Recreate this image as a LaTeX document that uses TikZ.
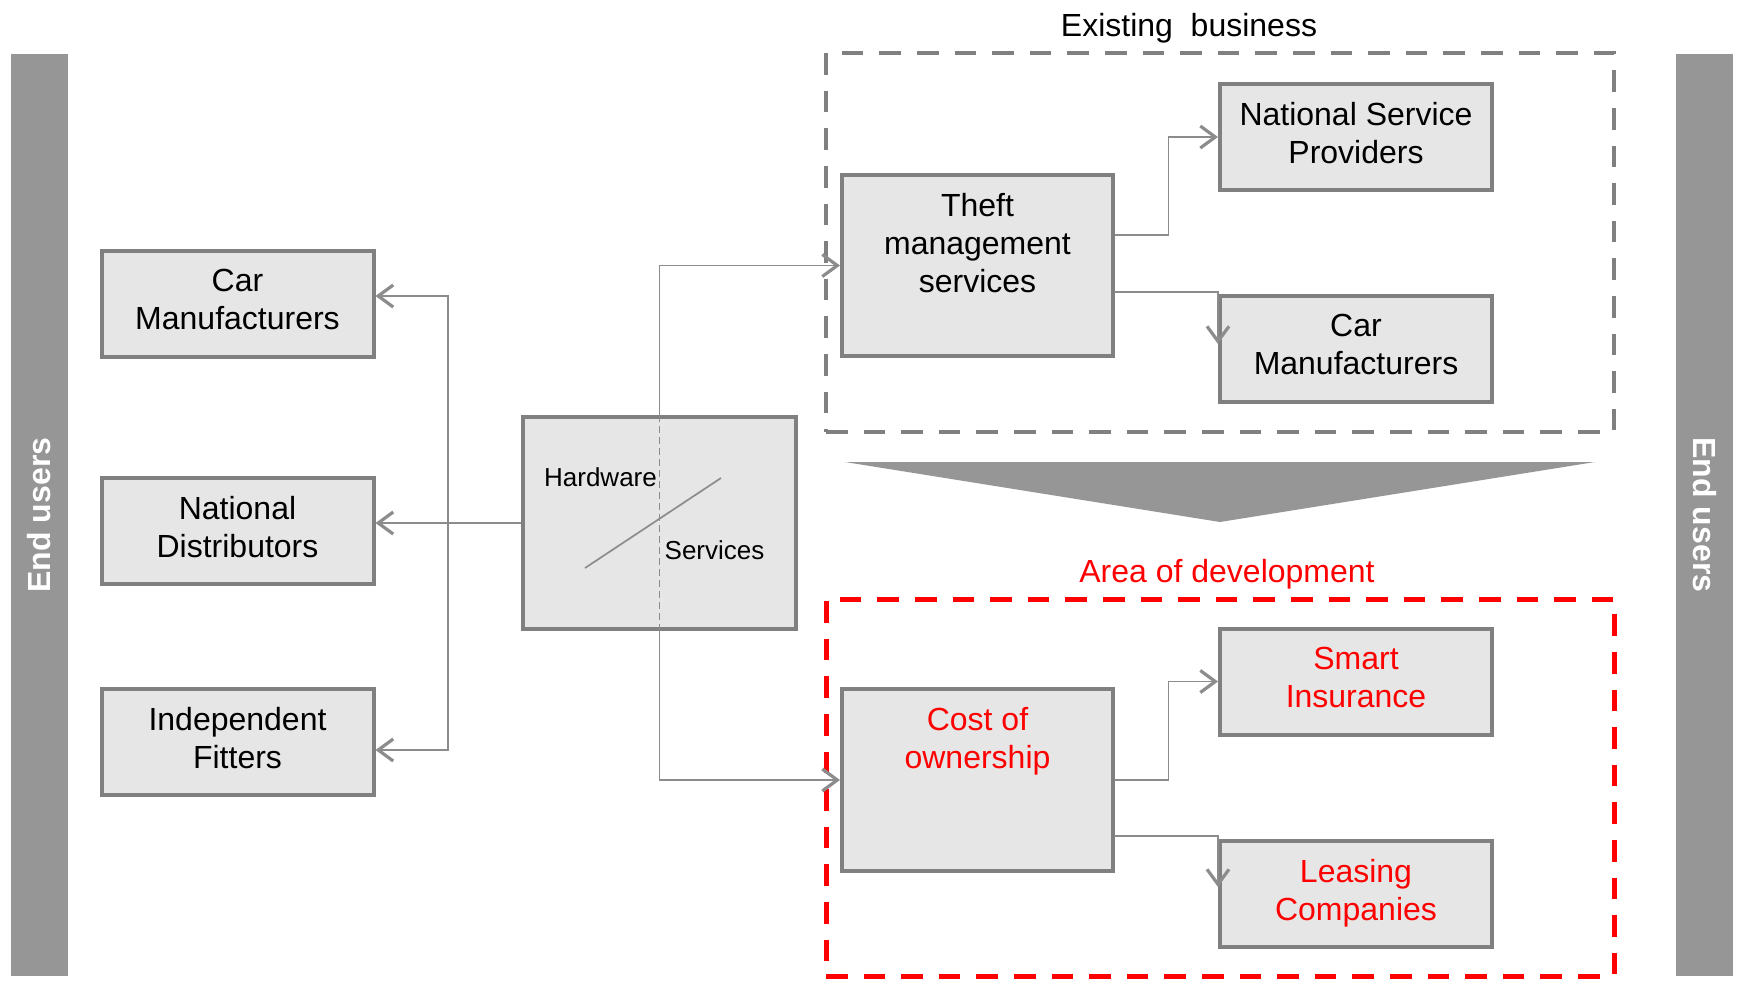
\documentclass[tikz,border=0pt]{standalone}
\usepackage{fontspec}
\setmainfont{Liberation Sans}
\usepackage{tikz}
\usetikzlibrary{calc}
\usetikzlibrary{arrows.meta}
\definecolor{boxfill}{HTML}{E6E6E6}
\definecolor{boxline}{HTML}{808080}
\definecolor{bargray}{HTML}{969696}
\definecolor{linegray}{HTML}{8C8C8C}
\definecolor{devred}{HTML}{FF0000}
\tikzstyle{box} = [draw=boxline, fill=boxfill, line width=2pt, align=center,
   inner sep=0pt, font=\fontsize{16pt}{19pt}\selectfont]
\tikzstyle{sidebox} = [box, minimum width=136pt, minimum height=53pt, text depth=4pt]
\tikzstyle{userbar} = [fill=bargray, minimum width=461pt, minimum height=28.5pt,
   text=white, font=\bfseries\fontsize{16pt}{19pt}\selectfont]
\tikzstyle{groupframe} = [line width=2pt, dash pattern=on 10.8pt off 8pt,
   minimum width=394pt, minimum height=189.5pt]
\tikzstyle{conn} = [draw=linegray, line width=0.85pt,
   -{Straight Barb[length=7.5pt,width=11pt,line width=1.6pt]}]
\tikzstyle{toplabel} = [anchor=north, yshift=-10pt, align=center, inner sep=0pt,
   font=\fontsize{16pt}{19pt}\selectfont]

\begin{document}
\begin{tikzpicture}[x=0.5pt,y=-0.5pt]
  \useasboundingbox (0,0) rectangle (1739,987);
  \node (leftusers) [userbar, rotate=90] at (39.5,515) {End users};
  \node (rightusers) [userbar, rotate=-90] at (1704.5,515) {End users};
  \node (carman) [sidebox] at (237.5,303.5) {Car\\Manufacturers};
  \node (natdist) [sidebox] at (237.5,530.5) {National\\Distributors};
  \node (indfit) [sidebox] at (237.5,741.5) {Independent\\Fitters};
  \node (hwserv) [box, minimum width=136.5pt, minimum height=106pt] at (659.5,523) {};
  \node (hwlabel) [font=\fontsize{13pt}{15pt}\selectfont] at (600.5,477) {Hardware};
  \node (svlabel) [font=\fontsize{13pt}{15pt}\selectfont] at (714.5,550) {Services};
  \draw [linegray, line width=0.85pt] (585,568) -- (721,478);
  \draw [linegray, line width=0.85pt, dash pattern=on 3.5pt off 2pt] (hwserv.north) -- (hwserv.south);
  \node (existing) [groupframe, draw=boxline] at (1220,242.5) {};
  \node (develop) [groupframe, draw=devred, line width=2.5pt, minimum height=188.5pt] at (1220,787.5) {};
  \node (existtitle) [font=\fontsize{16pt}{19pt}\selectfont] at (1189,28.5) {Existing\ \ business};
  \node (devtitle) [text=devred, font=\fontsize{16pt}{19pt}\selectfont] at (1227,574) {Area of development};
  \fill [bargray] (845,462) -- (1595,462) -- (1220,522) -- cycle;
  \node (theft) [box, minimum width=135.5pt, minimum height=90.5pt,
    label={[toplabel]north:Theft\\management\\services}] at (977.5,265.5) {};
  \node (cost) [box, minimum width=135.5pt, minimum height=91pt,
    label={[toplabel, text=devred]north:Cost of\\ownership}] at (977.5,780) {};
  \node (natserv) [sidebox] at (1356,137) {National Service\\Providers};
  \node (carmantwo) [sidebox] at (1356,348.5) {Car\\Manufacturers};
  \node (smart) [sidebox, text=devred] at (1356,681.5) {Smart\\Insurance};
  \node (leasing) [sidebox, text=devred] at (1356,893.5) {Leasing\\Companies};
  \coordinate (leftbus) at ($(hwserv.west)!.5!(hwserv.west -| natdist.east)$);
  \draw [conn] (hwserv.west) -- (hwserv.west -| natdist.east);
  \draw [conn] (leftbus) |- ([yshift=3.75pt]carman.east);
  \draw [conn] (leftbus) |- ([yshift=-4.25pt]indfit.east);
  \draw [conn] (hwserv.north) |- (theft.west);
  \draw [conn] (hwserv.south) |- (cost.west);
  \draw [conn] ([yshift=15.25pt]theft.east) -- ++(53.5,0) |- (natserv.west);
  \draw [conn] ([yshift=-13.25pt]theft.east) -| ([yshift=2.25pt]carmantwo.west);
  \draw [conn] (cost.east) -- ++(53.5,0) |- (smart.west);
  \draw [conn] ([yshift=-28pt]cost.east) -| ([yshift=3.25pt]leasing.west);
\end{tikzpicture}
\end{document}
